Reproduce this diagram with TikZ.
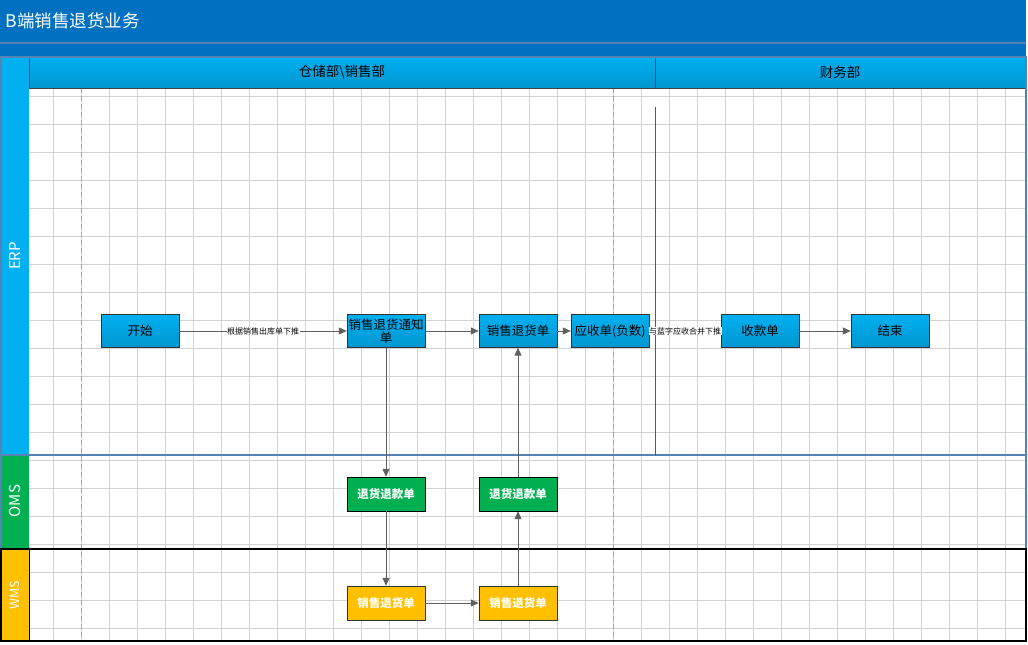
\documentclass[tikz,border=0pt]{standalone}
\usepackage{fontspec}
\setmainfont{Noto Sans CJK SC}
\usetikzlibrary{arrows.meta}

\definecolor{titleblue}{RGB}{0,112,192}
\definecolor{erpblue}{RGB}{0,176,240}
\definecolor{darkerp}{RGB}{0,150,208}
\definecolor{omsgreen}{RGB}{0,176,80}
\definecolor{wmsyellow}{RGB}{255,192,0}
\definecolor{laneline}{RGB}{84,130,178}
\definecolor{gridgray}{RGB}{210,210,210}
\definecolor{flowgray}{RGB}{96,96,96}

\begin{document}
\begin{tikzpicture}[x=1pt, y=-1pt]

% Set the page size and the general styles
\useasboundingbox (0,0) rectangle (1028,645);
\tikzstyle{rejilla}=[gridgray, line width=1pt]
\tikzstyle{division}=[gray!70, line width=0.8pt, dash pattern=on 5pt off 3pt]
\tikzstyle{cabecera}=[draw=black!75, line width=0.8pt, top color=erpblue, bottom color=darkerp]
\tikzstyle{carril}=[text=white, rotate=90, font=\fontsize{15}{16}\selectfont]

% Define styles for the boxes of every system
\tikzstyle{erpbox}=[draw=black!80, top color=erpblue, bottom color=darkerp, minimum width=78pt, minimum height=33pt, inner sep=1pt, align=center, font=\fontsize{12.5}{13}\selectfont]
\tikzstyle{omsbox}=[draw=black, fill=omsgreen, text=white, minimum width=78pt, minimum height=34pt, inner sep=1pt, font=\bfseries\fontsize{11.5}{12}\selectfont]
\tikzstyle{wmsbox}=[draw=black!80, fill=wmsyellow, text=white, minimum width=78pt, minimum height=34pt, inner sep=1pt, font=\bfseries\fontsize{11.5}{12}\selectfont]
\tikzstyle{flecha}=[flowgray, line width=1pt, -{Triangle[length=8pt, width=7pt]}]
\tikzstyle{nota}=[fill=white, inner sep=0.5pt, text=black, font=\fontsize{8}{9}\selectfont]

% Background and grid
\fill[white] (0,0) rectangle (1028,645);
\foreach \x in {53,81,...,1025}
	\draw[rejilla] (\x,88) -- (\x,641);
\foreach \y in {96,124,...,628}
	\draw[rejilla] (29,\y) -- (1026,\y);
\draw[division] (81,88) -- (81,641);
\draw[division] (613,88) -- (613,641);

% Title bar
\fill[titleblue] (0,0) rectangle (1026,57);
\draw[laneline, line width=1.2pt] (0,43) -- (1026,43);
\node[anchor=west, text=white, font=\fontsize{17.5}{18}\selectfont] (titulo) at (2,21) {B端销售退货业务};

% Department headers
\draw[cabecera] (29,57) rectangle (655,88);
\draw[cabecera] (655,57) rectangle (1026,88);
\node[font=\fontsize{13.5}{14}\selectfont] (almacen) at (342,72) {仓储部\textbackslash 销售部};
\node[font=\fontsize{13.5}{14}\selectfont] (finanzas) at (840,72) {财务部};

% Lanes
\fill[erpblue] (1,57) rectangle (29,455);
\fill[omsgreen] (1,455) rectangle (29,549);
\fill[wmsyellow] (1,549) rectangle (29,641);
\draw[laneline, line width=1.2pt] (1,57) rectangle (1026,455);
\draw[laneline, line width=1.2pt] (1,455) rectangle (1026,549);
\draw[black, line width=1.2pt] (1,549) rectangle (1026,641);
\draw[black, line width=0.8pt] (29,549) -- (29,641);
\node[carril] (erp) at (15,256) {ERP};
\node[carril] (oms) at (15,501) {OMS};
\node[carril, font=\fontsize{12.5}{13}\selectfont] (wms) at (15,595) {WMS};

% Separator of the finance department
\draw[titleblue, line width=1pt] (655,107) -- (655,455);

% ERP steps
\node[erpbox] (inicio) at (140,331) {开始};
\node[erpbox] (aviso) at (386,331) {销售退货通知\\单};
\node[erpbox] (devolucion) at (518,331) {销售退货单};
\node[erpbox] (cobrar) at (610,331) {应收单(负数)};
\node[erpbox] (cobro) at (760,331) {收款单};
\node[erpbox] (fin) at (890,331) {结束};

% OMS and WMS steps
\node[omsbox] (omsA) at (386,494) {退货退款单};
\node[omsbox] (omsB) at (518,494) {退货退款单};
\node[wmsbox] (wmsA) at (386,603) {销售退货单};
\node[wmsbox] (wmsB) at (518,603) {销售退货单};

% Flow
\draw[flecha] (inicio) -- (aviso) node[nota, midway] {根据销售出库单下推};
\draw[flecha] (aviso) -- (devolucion);
\draw[flecha] (devolucion) -- (cobrar);
\draw[flecha] (cobrar) -- (cobro) node[nota, midway] {与蓝字应收合并下推};
\draw[flecha] (cobro) -- (fin);
\draw[flecha] (aviso) -- (omsA);
\draw[flecha] (omsA) -- (wmsA);
\draw[flecha] (wmsA) -- (wmsB);
\draw[flecha] (wmsB) -- (omsB);
\draw[flecha] (omsB) -- (devolucion);

\end{tikzpicture}
\end{document}
